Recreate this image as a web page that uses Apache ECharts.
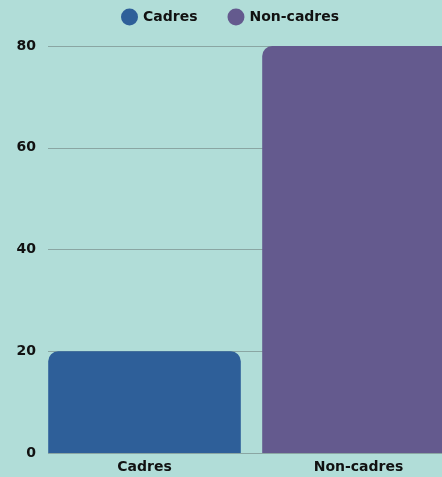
<!DOCTYPE html>
<html>
<head>
<meta charset="utf-8">
<script src="https://cdn.jsdelivr.net/npm/echarts@6/dist/echarts.min.js"></script>
<style>
html,body{margin:0;padding:0;background:#b1ddd8;}
#c{width:442px;height:477px;}
</style>
</head>
<body>
<div id="c"></div>
<script>
const categories = ['Cadres', 'Non-cadres'];
const cadresValues = [20, '-'];
const nonCadresValues = ['-', 80];
const yTicks = [0, 20, 40, 60, 80];

const FONT = 'DejaVu Sans';
const TXT = { fontFamily: FONT, fontSize: 14, fontWeight: 'bold', color: '#111' };
const chart = echarts.init(document.getElementById('c'));
chart.setOption({
  backgroundColor: '#b1ddd8',
  textStyle: { fontFamily: FONT },
  legend: {
    top: 3.5,
    left: 116,
    icon: 'circle',
    itemWidth: 17,
    itemHeight: 17,
    itemGap: 30,
    textStyle: TXT,
    data: ['Cadres', 'Non-cadres']
  },
  grid: [
    { left: 48, right: 0, top: 46, bottom: 24, outerBoundsMode: 'none' },
    { left: 37.5, width: 428, top: 46, bottom: 24, outerBoundsMode: 'none' }
  ],
  xAxis: [
    { type: 'category', gridIndex: 0, data: categories, show: false },
    {
      type: 'category', gridIndex: 1, data: categories,
      axisLine: { show: false }, axisTick: { show: false },
      axisLabel: Object.assign({ margin: 7 }, TXT)
    }
  ],
  yAxis: [
    {
      type: 'value', gridIndex: 0, min: yTicks[0], max: yTicks[yTicks.length - 1], interval: 20,
      axisLine: { show: false }, axisTick: { show: false },
      splitLine: { lineStyle: { color: '#8aa6a3', width: 1 } },
      axisLabel: Object.assign({ margin: 12 }, TXT)
    },
    {
      type: 'value', gridIndex: 1, min: yTicks[0], max: yTicks[yTicks.length - 1], interval: 20,
      show: false, splitLine: { show: false }
    }
  ],
  series: [
    {
      name: 'Cadres', type: 'bar', xAxisIndex: 1, yAxisIndex: 1, stack: 'all',
      data: cadresValues, barCategoryGap: '10%',
      itemStyle: { color: '#2e5f99', borderRadius: [10, 10, 0, 0] }
    },
    {
      name: 'Non-cadres', type: 'bar', xAxisIndex: 1, yAxisIndex: 1, stack: 'all',
      data: nonCadresValues, barCategoryGap: '10%',
      itemStyle: { color: '#645a8e', borderRadius: [10, 10, 0, 0] }
    }
  ]
});
</script>
</body>
</html>
